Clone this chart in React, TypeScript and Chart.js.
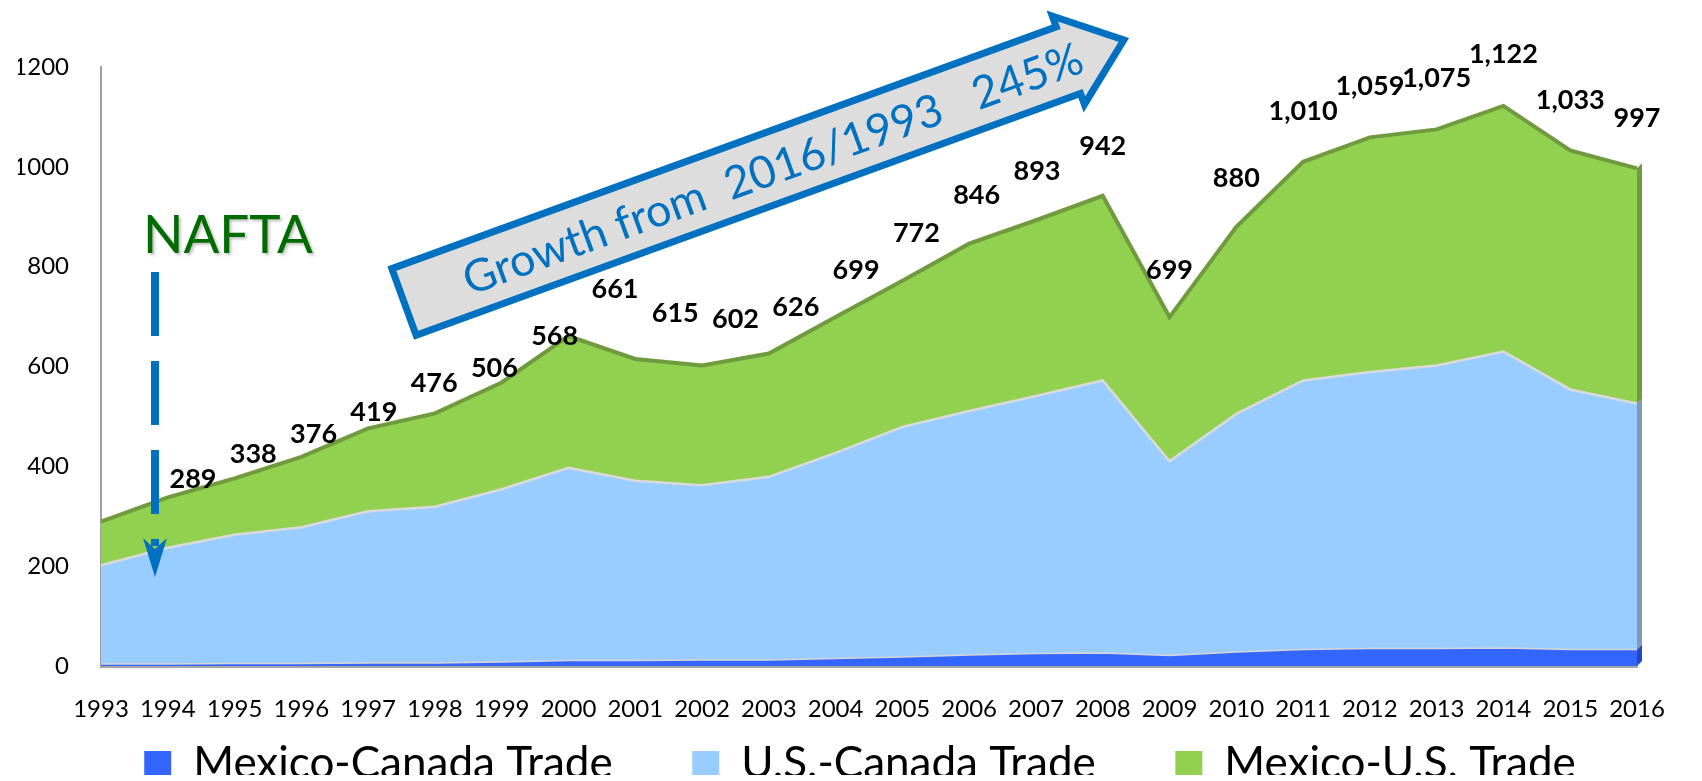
import React, { useEffect, useRef } from 'react';
import { Chart, registerables } from 'chart.js';

Chart.register(...registerables);

// ---------- data ----------
const years = ['1993', '1994', '1995', '1996', '1997', '1998', '1999', '2000', '2001', '2002', '2003', '2004', '2005', '2006', '2007', '2008', '2009', '2010', '2011', '2012', '2013', '2014', '2015', '2016'];
const totalTrade = [289, 338, 376, 419, 476, 506, 568, 661, 615, 602, 626, 699, 772, 846, 893, 942, 699, 880, 1010, 1059, 1075, 1122, 1033, 997];
const mexicoCanada = [4, 4, 5, 5, 6, 6, 8, 11, 11, 12, 12, 15, 18, 22, 25, 26, 21, 28, 33, 35, 35, 36, 33, 33];
const usCanada = [198, 233, 258, 273, 304, 313, 346, 386, 360, 350, 367, 412, 461, 489, 516, 546, 389, 477, 539, 554, 567, 594, 521, 493];
const mexicoUS = [87, 101, 113, 141, 166, 187, 214, 264, 244, 240, 247, 272, 293, 335, 352, 370, 289, 375, 438, 470, 473, 492, 479, 471];
const seriesNames = ['Mexico-Canada Trade', 'U.S.-Canada Trade', 'Mexico-U.S. Trade'];
const yTickValues = [0, 200, 400, 600, 800, 1000, 1200];
const naftaText = 'NAFTA';
const growthText = 'Growth from  2016/1993   245%';

const FONT = "Lato, 'Open Sans', 'DejaVu Sans', sans-serif";
const COLORS = {
  mc: '#3366FF',
  usc: '#99CCFF',
  mxus: '#92D050',
  mcSide: '#2347C0',
  uscSide: '#7F9AB8',
  mxusSide: '#6E9B3D',
};

// data labels (totals) above the top series
const totalsLabelPlugin = {
  id: 'totalsLabel',
  afterDatasetsDraw(chart: any) {
    const ctx = chart.ctx;
    const meta = chart.getDatasetMeta(2);
    ctx.save();
    ctx.font = `bold 27px ${FONT}`;
    ctx.fillStyle = '#000';
    ctx.textAlign = 'center';
    ctx.textBaseline = 'middle';
    meta.data.forEach((pt: any, i: number) => {
      const dx = Math.max(0, 92 - 6.5 * i);
      const dy = -40 - (12 * totalTrade[i]) / 1200;
      ctx.fillText(totalTrade[i].toLocaleString('en-US'), pt.x + dx, pt.y + dy);
    });
    ctx.restore();
  },
};

// 3D-like side faces at the right end
const sideFacePlugin = {
  id: 'sideFace',
  afterDatasetsDraw(chart: any) {
    const ctx = chart.ctx;
    const yScale = chart.scales.y;
    const n = years.length - 1;
    const tops = [0, 1, 2].map((d) => chart.getDatasetMeta(d).data[n]);
    const base = yScale.getPixelForValue(0);
    const sides = [COLORS.mcSide, COLORS.uscSide, COLORS.mxusSide];
    const w = 5;
    ctx.save();
    for (let d = 0; d < 3; d++) {
      const x = tops[d].x;
      const yTop = tops[d].y;
      const yBot = d === 0 ? base : tops[d - 1].y;
      ctx.fillStyle = sides[d];
      ctx.beginPath();
      ctx.moveTo(x, yTop);
      ctx.lineTo(x + w, yTop - w);
      ctx.lineTo(x + w, yBot - w);
      ctx.lineTo(x, yBot);
      ctx.closePath();
      ctx.fill();
    }
    ctx.restore();
  },
};

// annotations: NAFTA label, dashed arrow, growth block arrow
const annotationPlugin = {
  id: 'annotations',
  afterDraw(chart: any) {
    const ctx = chart.ctx;
    ctx.save();
    // NAFTA
    ctx.font = `53px ${FONT}`;
    ctx.fillStyle = '#006B00';
    ctx.textAlign = 'left';
    ctx.textBaseline = 'alphabetic';
    ctx.shadowColor = 'rgba(0,0,0,0.25)';
    ctx.shadowBlur = 3;
    ctx.shadowOffsetX = 2;
    ctx.shadowOffsetY = 2;
    ctx.fillText(naftaText, 143, 253);
    ctx.shadowColor = 'transparent';

    // dashed arrow
    ctx.strokeStyle = '#0070C0';
    ctx.lineWidth = 8;
    ctx.setLineDash([64, 25]);
    ctx.beginPath();
    ctx.moveTo(155, 272);
    ctx.lineTo(155, 546);
    ctx.stroke();
    ctx.setLineDash([]);
    ctx.fillStyle = '#0070C0';
    ctx.beginPath();
    ctx.moveTo(143, 538);
    ctx.lineTo(155, 549);
    ctx.lineTo(167, 538);
    ctx.lineTo(155, 577);
    ctx.closePath();
    ctx.fill();

    // block arrow
    ctx.translate(404, 302);
    ctx.rotate((-20 * Math.PI) / 180);
    const hw = 35.5;
    const hh = 47;
    const headU = 707;
    const tipU = 766;
    ctx.beginPath();
    ctx.moveTo(0, -hw);
    ctx.lineTo(headU, -hw);
    ctx.lineTo(headU, -hh);
    ctx.lineTo(tipU, 0);
    ctx.lineTo(headU, hh);
    ctx.lineTo(headU, hw);
    ctx.lineTo(0, hw);
    ctx.closePath();
    ctx.fillStyle = '#DDDDDD';
    ctx.fill();
    ctx.lineWidth = 7;
    ctx.lineJoin = 'miter';
    ctx.strokeStyle = '#0070C0';
    ctx.stroke();
    ctx.font = `45px ${FONT}`;
    ctx.fillStyle = '#0070C0';
    ctx.textAlign = 'left';
    ctx.textBaseline = 'middle';
    ctx.fillText(growthText, 64, 2);
    ctx.restore();
  },
};

export default function App() {
  const canvasRef = useRef<HTMLCanvasElement | null>(null);

  useEffect(() => {
    const canvas = canvasRef.current;
    if (!canvas) return;
    const chart = new Chart(canvas, {
      type: 'line',
      data: {
        labels: years,
        datasets: [
          {
            label: seriesNames[0],
            data: mexicoCanada,
            backgroundColor: COLORS.mc,
            borderColor: '#D6D6D6',
            borderWidth: 1.5,
            fill: 'origin',
            pointRadius: 0,
            tension: 0,
          },
          {
            label: seriesNames[1],
            data: usCanada,
            backgroundColor: COLORS.usc,
            borderColor: '#DADADA',
            borderWidth: 2.5,
            fill: '-1',
            pointRadius: 0,
            tension: 0,
          },
          {
            label: seriesNames[2],
            data: mexicoUS,
            backgroundColor: COLORS.mxus,
            borderColor: '#6F9A3E',
            borderWidth: 4,
            fill: '-1',
            pointRadius: 0,
            tension: 0,
          },
        ],
      },
      options: {
        animation: false,
        responsive: false,
        devicePixelRatio: 1,
        layout: { padding: { left: 18, right: 0, top: 67, bottom: 6 } },
        plugins: {
          legend: {
            position: 'bottom',
            maxHeight: 45,
            labels: {
              font: { family: FONT, size: 44 },
              color: '#000',
              boxWidth: 27,
              boxHeight: 26,
              padding: 12,
              generateLabels: (c: any) => {
                const items = Chart.defaults.plugins.legend.labels.generateLabels(c);
                return items.map((l: any, i: number) => ({
                  ...l,
                  lineWidth: 0,
                  text: i < items.length - 1 ? l.text + '      ' : l.text,
                }));
              },
            },
          },
          tooltip: { enabled: false },
          title: { display: false },
        },
        scales: {
          x: {
            grid: { display: false, drawTicks: false },
            border: { display: true, color: '#A6A6A6', width: 3 },
            ticks: { font: { family: FONT, size: 24 }, color: '#000', padding: 29, autoSkip: false, maxRotation: 0 },
            afterFit: (s: any) => {
              s.height = 64;
            },
          },
          y: {
            stacked: true,
            min: 0,
            max: 1200,
            afterBuildTicks: (s: any) => {
              s.ticks = yTickValues.map((v) => ({ value: v }));
            },
            ticks: {
              font: { family: FONT, size: 24 },
              color: '#000',
              padding: 32,
              callback: (v: any) => String(v),
            },
            grid: { display: false, drawTicks: false },
            border: { display: true, color: '#A0A0A0', width: 2 },
            afterFit: (s: any) => {
              s.width = 83;
            },
          },
          yRight: {
            type: 'linear',
            position: 'right',
            display: true,
            min: 0,
            max: 1,
            grid: { display: false, drawTicks: false },
            border: { display: false },
            ticks: { display: false },
            afterFit: (s: any) => {
              s.width = 65;
            },
          },
        },
      },
      plugins: [sideFacePlugin, totalsLabelPlugin, annotationPlugin],
    } as any);
    return () => chart.destroy();
  }, []);

  return (
    <div style={{ position: 'absolute', left: 0, top: 0, width: 1702, height: 781, background: '#fff' }}>
      <canvas ref={canvasRef} width={1702} height={781} style={{ display: 'block', width: 1702, height: 781 }} />
    </div>
  );
}
